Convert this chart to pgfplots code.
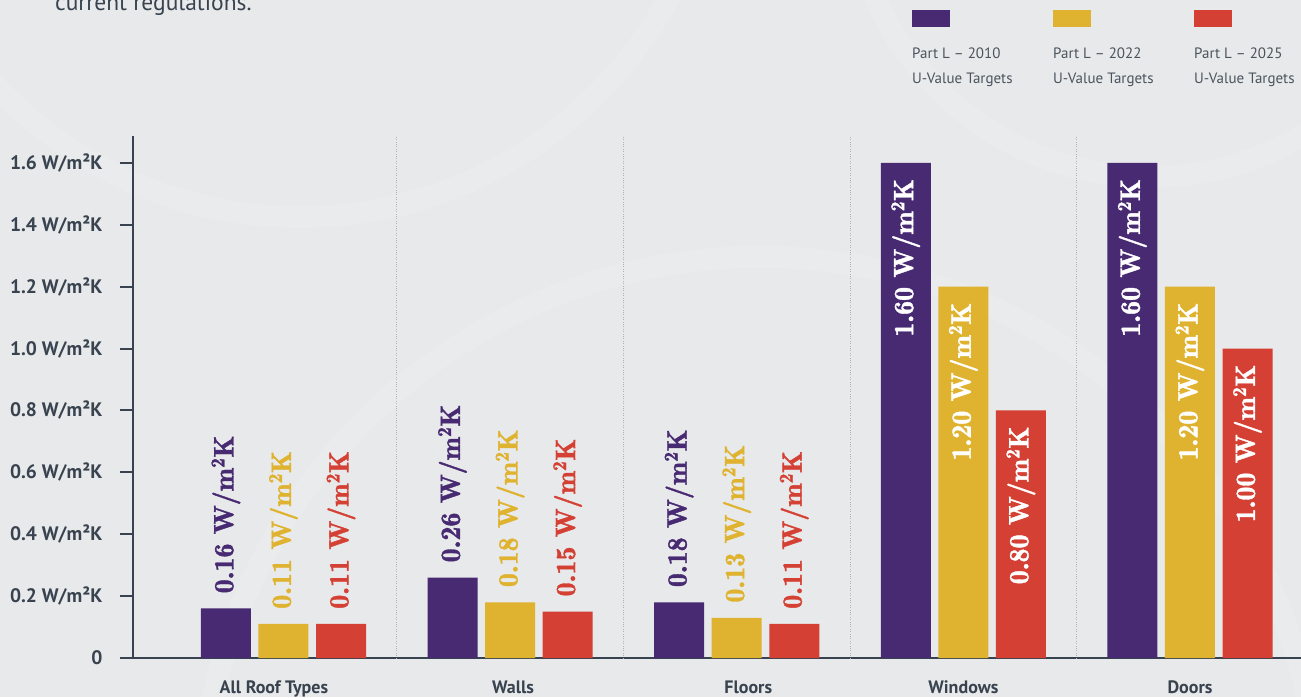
\documentclass[border=0pt]{standalone}
\usepackage{pgfplots}
\pgfplotsset{compat=1.18}
\usepackage{fontspec}
\setmainfont{PT Sans}
\newfontfamily\lmbf{lmromandemi10-regular}[Extension=.otf, FakeBold=1.3]
\definecolor{bg}{HTML}{E8E9EA}
\definecolor{txt}{HTML}{38434F}
\definecolor{lgtxt}{HTML}{4A545E}
\definecolor{cpur}{HTML}{472A72}
\definecolor{cyel}{HTML}{DFB32F}
\definecolor{cred}{HTML}{D44033}
\begin{document}
\begin{tikzpicture}[x=1pt,y=1pt]
\path[use as bounding box, fill=bg] (0,0) rectangle (1301,697);
\begin{scope}[draw=white, opacity=0.12, line width=22pt]
\draw (760,-120) circle (560);
\draw (300,900) circle (420);
\draw (1150,820) circle (300);
\end{scope}
\node[anchor=base west, inner sep=0pt, font=\fontsize{23.5}{23.5}\selectfont, text=txt] at (55,686) {current regulations.};
% legend
\fill[cpur] (912,670) rectangle (950,687);
\fill[cyel] (1053,670) rectangle (1091,687);
\fill[cred] (1194,670) rectangle (1232,687);
\foreach \x/\yr in {912/2010,1053/2022,1194/2025}{
  \node[anchor=base west, inner sep=0pt, font=\fontsize{15}{15}\selectfont, text=lgtxt] at (\x,638) {Part L – \yr};
  \node[anchor=base west, inner sep=0pt, font=\fontsize{15}{15}\selectfont, text=lgtxt] at (\x,613) {U-Value Targets};
}
\begin{axis}[
  at={(133pt,39pt)}, anchor=south west, scale only axis,
  width=1168pt, height=522pt,
  xmin=-0.664, xmax=4.49, ymin=0, ymax=1.687,
  axis lines*=left,
  axis line style={draw=txt, line width=2pt},
  tick align=outside, major tick length=13pt,
  ytick={0,0.2,0.4,0.6,0.8,1.0,1.2,1.4,1.6},
  yticklabels={0,0.2 W/m²K,0.4 W/m²K,0.6 W/m²K,0.8 W/m²K,1.0 W/m²K,1.2 W/m²K,1.4 W/m²K,1.6 W/m²K},
  ytick style={draw=txt, line width=2pt},
  y tick label style={font=\bfseries\fontsize{19.5}{19.5}\selectfont, text=txt, xshift=-14pt},
  xtick={-0.042,1.013,2.051,3,4},
  xticklabels={All Roof Types,Walls,Floors,Windows,Doors},
  xtick style={draw=none},
  x tick label style={font=\bfseries\fontsize{18}{18}\selectfont, text=txt, yshift=-6pt},
  extra x ticks={0.5,1.5,2.5,3.5},
  extra x tick labels={},
  extra x tick style={grid=major, major grid style={dotted, draw=gray!60, line width=0.8pt}, tick style={draw=none}},
  clip=false,
]
% above-bar labels
\addplot[ybar, bar width=0.2207, bar shift=0, fill=cpur, draw=none,
  point meta=explicit symbolic,
  nodes near coords={\pgfplotspointmeta\ W/m\textsuperscript{2}K},
  nodes near coords style={rotate=90, anchor=west, inner xsep=15pt, inner ysep=0pt, text=cpur, font=\lmbf\fontsize{28}{28}\selectfont}]
  coordinates {(-0.254,0.16)[0.16] (0.746,0.26)[0.26] (1.746,0.18)[0.18]};
\addplot[ybar, bar width=0.2207, bar shift=0, fill=cyel, draw=none,
  point meta=explicit symbolic,
  nodes near coords={\pgfplotspointmeta\ W/m\textsuperscript{2}K},
  nodes near coords style={rotate=90, anchor=west, inner xsep=15pt, inner ysep=0pt, text=cyel, font=\lmbf\fontsize{28}{28}\selectfont}]
  coordinates {(0,0.11)[0.11] (1,0.18)[0.18] (2,0.13)[0.13]};
\addplot[ybar, bar width=0.2207, bar shift=0, fill=cred, draw=none,
  point meta=explicit symbolic,
  nodes near coords={\pgfplotspointmeta\ W/m\textsuperscript{2}K},
  nodes near coords style={rotate=90, anchor=west, inner xsep=15pt, inner ysep=0pt, text=cred, font=\lmbf\fontsize{28}{28}\selectfont}]
  coordinates {(0.254,0.11)[0.11] (1.254,0.15)[0.15] (2.254,0.11)[0.11]};
% inside-bar labels
\addplot[ybar, bar width=0.2207, bar shift=0, fill=cpur, draw=none,
  point meta=explicit symbolic,
  nodes near coords={\pgfplotspointmeta\ W/m\textsuperscript{2}K},
  nodes near coords style={rotate=90, anchor=east, inner xsep=16pt, inner ysep=0pt, text=white, font=\lmbf\fontsize{28}{28}\selectfont}]
  coordinates {(2.746,1.60)[1.60] (3.746,1.60)[1.60]};
\addplot[ybar, bar width=0.2207, bar shift=0, fill=cyel, draw=none,
  point meta=explicit symbolic,
  nodes near coords={\pgfplotspointmeta\ W/m\textsuperscript{2}K},
  nodes near coords style={rotate=90, anchor=east, inner xsep=16pt, inner ysep=0pt, text=white, font=\lmbf\fontsize{28}{28}\selectfont}]
  coordinates {(3,1.20)[1.20] (4,1.20)[1.20]};
\addplot[ybar, bar width=0.2207, bar shift=0, fill=cred, draw=none,
  point meta=explicit symbolic,
  nodes near coords={\pgfplotspointmeta\ W/m\textsuperscript{2}K},
  nodes near coords style={rotate=90, anchor=east, inner xsep=16pt, inner ysep=0pt, text=white, font=\lmbf\fontsize{28}{28}\selectfont}]
  coordinates {(3.254,0.80)[0.80] (4.254,1.00)[1.00]};
\end{axis}
\end{tikzpicture}
\end{document}
